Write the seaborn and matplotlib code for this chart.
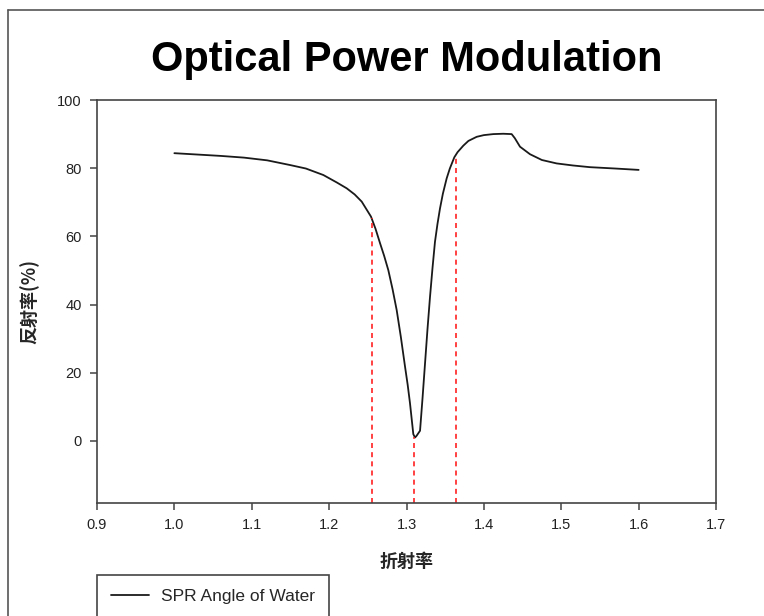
import numpy as np
import pandas as pd
import seaborn as sns
import matplotlib.pyplot as plt
from matplotlib.lines import Line2D

# refractive index vs reflectance
n_index = [1.000, 1.030, 1.060, 1.090, 1.120, 1.150, 1.170, 1.1925, 1.210, 1.2227,
           1.233, 1.2421, 1.2541, 1.260, 1.2658, 1.2711, 1.2765, 1.2820, 1.2873, 1.2927,
           1.2981, 1.3015, 1.3045, 1.3088, 1.311, 1.313, 1.3175, 1.3207, 1.324, 1.3272,
           1.3304, 1.3336, 1.3368, 1.340, 1.3433, 1.347, 1.3519, 1.356, 1.3618, 1.366,
           1.3734, 1.380, 1.3907, 1.400, 1.4122, 1.425, 1.4359, 1.440, 1.4467, 1.4596,
           1.475, 1.494, 1.515, 1.537, 1.570, 1.600]
reflect = [84.4, 84.0, 83.6, 83.1, 82.3, 80.9, 79.9, 78.0, 75.8, 74.1,
           72.3, 70.2, 65.8, 62.2, 58.0, 54.3, 50.1, 44.5, 38.4, 30.5,
           21.8, 16.5, 11.1, 2.0, 1.0, 1.5, 3.0, 12.5, 22.9, 33.0,
           42.3, 50.7, 58.4, 63.6, 68.2, 72.5, 77.0, 79.9, 83.2, 84.7,
           86.6, 88.0, 89.2, 89.7, 90.0, 90.1, 90.0, 88.8, 86.3, 84.1,
           82.4, 81.4, 80.8, 80.3, 79.9, 79.5]

# red dashed markers
mark_x = [1.256, 1.310, 1.364]
mark_top = [65.4, 1.2, 83.3]

x_ticks = [0.9, 1.0, 1.1, 1.2, 1.3, 1.4, 1.5, 1.6, 1.7]
y_ticks = [0, 20, 40, 60, 80, 100]

df = pd.DataFrame({"n": n_index, "R": reflect})

sns.set_style("ticks")
plt.rcParams['font.family'] = ['Liberation Sans', 'Noto Sans CJK TC', 'DejaVu Sans']

fig = plt.figure(figsize=(7.64, 6.16), dpi=100)
ax = fig.add_axes([97/764, 1-503/616, (716-97)/764, (503-100)/616])

sns.lineplot(data=df, x="n", y="R", ax=ax, color="#1a1a1a", linewidth=1.3,
             label="SPR Angle of Water", legend=False)

ymin = -18.2
ax.vlines(mark_x, ymin, mark_top, colors="#ff2020", linestyles=(0, (3, 2.5)), linewidth=1.2)

ax.set_xlim(0.9, 1.7)
ax.set_ylim(ymin, 100)
ax.set_xticks(x_ticks)
ax.set_xticklabels([f"{v:.1f}" for v in x_ticks])
ax.set_yticks(y_ticks)

for s in ax.spines.values():
    s.set_color("#444444")
    s.set_linewidth(1.2)
ax.tick_params(direction="out", length=5, width=1.1, color="#444444",
               labelsize=10.5, labelcolor="#222222", pad=6)

ax.set_title("Optical Power Modulation", fontsize=30, fontweight="bold",
             color="black", pad=21)
ax.set_xlabel("折射率", fontsize=13, fontweight="bold",
              family=['Noto Sans CJK TC', 'DejaVu Sans'], labelpad=14)
ax.set_ylabel("反射率(%)", fontsize=13, fontweight="bold",
              family=['Noto Sans CJK TC', 'DejaVu Sans'], labelpad=13)

handles = [Line2D([0], [0], color="#1a1a1a", linewidth=1.3)]
leg = fig.legend(handles, ["SPR Angle of Water"], loc="upper left",
                 bbox_to_anchor=(97/764, 1-575/616), fontsize=12.5,
                 frameon=True, fancybox=False, framealpha=1, edgecolor="#444444",
                 borderpad=0.8, handlelength=2.2, handletextpad=0.7, borderaxespad=0)
leg.get_frame().set_linewidth(1.2)

# outer frame lines (left and top)
fig.add_artist(Line2D([8/764, 8/764], [0, 1-10/616], transform=fig.transFigure,
                      color="#555555", linewidth=1.2))
fig.add_artist(Line2D([8/764, 1], [1-10/616, 1-10/616], transform=fig.transFigure,
                      color="#555555", linewidth=1.2))

fig.savefig("out.png", dpi=100)
